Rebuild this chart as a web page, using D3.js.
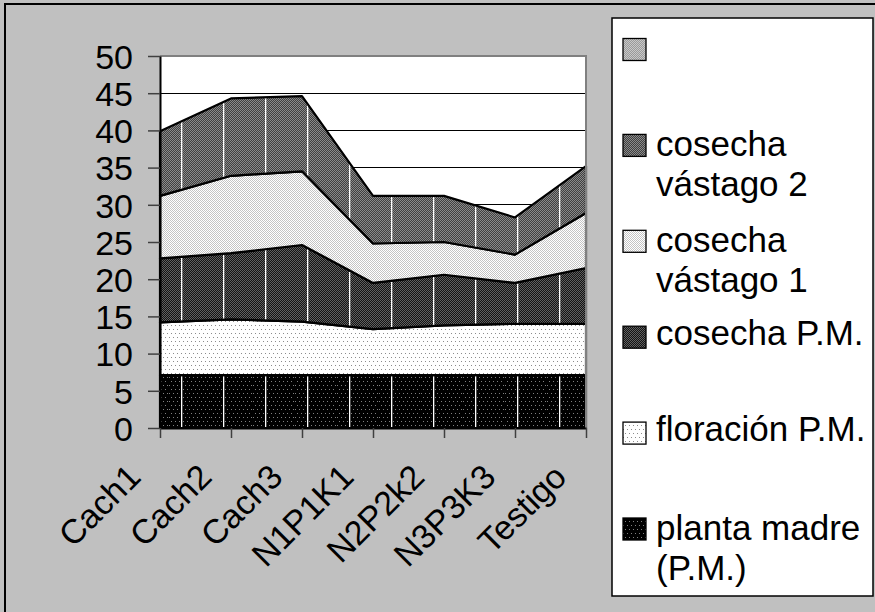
<!DOCTYPE html>
<html>
<head>
<meta charset="utf-8">
<script src="https://cdn.jsdelivr.net/npm/d3@7"></script>
<style>
  html, body { margin: 0; padding: 0; background: #c0c0c0; }
  svg { display: block; font-family: "Liberation Sans", Arial, sans-serif; }
</style>
</head>
<body>
<svg id="chart" width="875" height="612"></svg>
<script>
// ---- data ----
const categories = ["Cach1", "Cach2", "Cach3", "N1P1K1", "N2P2k2", "N3P3K3", "Testigo"];
const plantaMadre = [7.1, 7.1, 7.1, 7.1, 7.1, 7.1, 7.1];
const floracionPM = [7.1, 7.5, 7.2, 6.2, 6.7, 6.9, 6.9];
const cosechaPM   = [8.6, 8.9, 10.3, 6.2, 6.8, 5.5, 7.5];
const cosechaV1   = [8.4, 10.4, 9.9, 5.3, 4.4, 3.8, 7.4];
const cosechaV2   = [8.7, 10.4, 10.1, 6.4, 6.2, 5.0, 6.3];
const blankSeries = [0, 0, 0, 0, 0, 0, 0];
const seriesNames = ["planta madre (P.M.)", "floración P.M.", "cosecha P.M.", "cosecha vástago 1", "cosecha vástago 2", ""];
const yTickLabels = [0, 5, 10, 15, 20, 25, 30, 35, 40, 45, 50];

const seriesValues = [plantaMadre, floracionPM, cosechaPM, cosechaV1, cosechaV2, blankSeries];
const keys = seriesNames.map((n, i) => "s" + i);
const table = categories.map((c, j) => {
  const row = { cat: c };
  keys.forEach((k, i) => row[k] = seriesValues[i][j]);
  return row;
});

// ---- layout ----
const svg = d3.select("#chart");
const W = 875, H = 612;
const plot = { left: 160, right: 586, top: 56, bottom: 428 };

svg.append("rect").attr("width", W).attr("height", H).attr("fill", "#c0c0c0");
// outer border (left / top visible)
svg.append("path").attr("d", `M5,${H} V4 H${W}`).attr("fill", "none").attr("stroke", "#000").attr("stroke-width", 2);

// ---- patterns ----
const defs = svg.append("defs");
function checker(id, a, b, lines) {
  const p = defs.append("pattern").attr("id", id).attr("patternUnits", "userSpaceOnUse")
    .attr("width", lines ? 42 : 2).attr("height", 2);
  p.append("rect").attr("width", lines ? 42 : 2).attr("height", 2).attr("fill", a);
  const n = lines ? 21 : 1;
  for (let i = 0; i < n; i++) {
    p.append("rect").attr("x", i * 2).attr("y", 0).attr("width", 1).attr("height", 1).attr("fill", b);
    p.append("rect").attr("x", i * 2 + 1).attr("y", 1).attr("width", 1).attr("height", 1).attr("fill", b);
  }
  if (lines) p.append("rect").attr("x", 13).attr("y", 0).attr("width", 1.3).attr("height", 2).attr("fill", "#fff");
  return "url(#" + id + ")";
}
function dots(id, bg, dot, lines) {
  const w = lines ? 42 : 4;
  const p = defs.append("pattern").attr("id", id).attr("patternUnits", "userSpaceOnUse")
    .attr("width", w).attr("height", 8);
  p.append("rect").attr("width", w).attr("height", 8).attr("fill", bg);
  for (let x = 0; x < w; x += 4) {
    p.append("rect").attr("x", x + 1).attr("y", 1).attr("width", 1).attr("height", 1).attr("fill", dot);
    p.append("rect").attr("x", x + 3).attr("y", 5).attr("width", 1).attr("height", 1).attr("fill", dot);
  }
  if (lines) p.append("rect").attr("x", 13).attr("y", 0).attr("width", 1.3).attr("height", 8).attr("fill", "#fff");
  return "url(#" + id + ")";
}
const fills = [
  dots("pPM", "#000", "#808080", true),
  dots("pFl", "#fff", "#8c8c8c", false),
  checker("pCPM", "#141414", "#606060", true),
  checker("pV1", "#ffffff", "#c4c4c4", false),
  checker("pV2", "#404040", "#8a8a8a", true),
  checker("pBl", "#9a9a9a", "#c8c8c8", false)
];
const swatchFills = [
  dots("sPM", "#000", "#808080", false),
  fills[1],
  checker("sCPM", "#141414", "#606060", false),
  fills[3],
  checker("sV2", "#404040", "#8a8a8a", false),
  fills[5]
];

// ---- scales ----
const x = d3.scalePoint().domain(categories).range([plot.left, plot.right]);
const y = d3.scaleLinear().domain([0, 50]).range([plot.bottom, plot.top]);

// plot background
svg.append("rect").attr("x", plot.left).attr("y", plot.top)
  .attr("width", plot.right - plot.left).attr("height", plot.bottom - plot.top).attr("fill", "#fff");

// gridlines
svg.append("g").selectAll("line").data(yTickLabels.filter(v => v > 0 && v < 50)).join("line")
  .attr("x1", plot.left).attr("x2", plot.right)
  .attr("y1", d => y(d)).attr("y2", d => y(d))
  .attr("stroke", "#000").attr("stroke-width", 1).attr("shape-rendering", "crispEdges");

// areas
const stacked = d3.stack().keys(keys)(table);
const area = d3.area()
  .x(d => x(d.data.cat))
  .y0(d => y(d[0]))
  .y1(d => y(d[1]));
svg.append("g").selectAll("path").data(stacked).join("path")
  .attr("d", area)
  .attr("fill", (d, i) => fills[i])
  .attr("stroke", (d, i) => i === 5 ? "none" : "#000")
  .attr("stroke-width", 2.2)
  .attr("stroke-linejoin", "round");

// plot frame top/right (gray)
svg.append("path").attr("d", `M${plot.left},${plot.top} H${plot.right} V${plot.bottom}`)
  .attr("fill", "none").attr("stroke", "#808080").attr("stroke-width", 2);

// y axis
const yAxis = svg.append("g").attr("transform", `translate(${plot.left},0)`)
  .call(d3.axisLeft(y).tickValues(yTickLabels).tickSize(12).tickPadding(15).tickSizeOuter(0));
yAxis.select(".domain").attr("stroke", "#000").attr("stroke-width", 2);
yAxis.selectAll(".tick line").attr("stroke", "#404040").attr("stroke-width", 1.5);
yAxis.selectAll(".tick text").attr("font-size", 34).attr("fill", "#000")
  .attr("font-family", "Liberation Sans, Arial, sans-serif").attr("dy", "0.36em");

// x axis
const xAxis = svg.append("g").attr("transform", `translate(0,${plot.bottom})`)
  .call(d3.axisBottom(x).tickSize(10).tickSizeOuter(0));
xAxis.select(".domain").attr("stroke", "#000").attr("stroke-width", 2);
xAxis.selectAll(".tick line").attr("stroke", "#404040").attr("stroke-width", 1.5);
xAxis.selectAll(".tick text")
  .attr("font-size", 34).attr("fill", "#000")
  .attr("font-family", "Liberation Sans, Arial, sans-serif")
  .attr("y", 0).attr("dy", 0)
  .attr("text-anchor", "end")
  .attr("transform", "translate(-18,51) rotate(-45)");

// ---- legend ----
const lg = { left: 612, top: 18, right: 873, bottom: 596 };
svg.append("rect").attr("x", lg.left).attr("y", lg.top)
  .attr("width", lg.right - lg.left).attr("height", lg.bottom - lg.top)
  .attr("fill", "#fff").attr("stroke", "#000").attr("stroke-width", 1.5);

const legendOrder = [5, 4, 3, 2, 1, 0];
const entryGap = 95.9, firstCenter = 49.5;
const textX = 656, maxW = 222, lineH = 40, fs = 35;
const measurer = svg.append("text").attr("font-size", fs).attr("visibility", "hidden");
function wrap(str) {
  const words = str.split(" ").filter(w => w.length);
  const lines = []; let cur = "";
  words.forEach(w => {
    const t = cur ? cur + " " + w : w;
    measurer.text(t);
    if (measurer.node().getComputedTextLength() > maxW && cur) { lines.push(cur); cur = w; }
    else cur = t;
  });
  if (cur) lines.push(cur);
  return lines;
}
legendOrder.forEach((si, k) => {
  const cy = firstCenter + k * entryGap;
  svg.append("rect").attr("x", 623).attr("y", cy - 11).attr("width", 23).attr("height", 22)
    .attr("fill", swatchFills[si]).attr("stroke", "#000").attr("stroke-width", 1.3);
  const lines = wrap(seriesNames[si]);
  const baseShift = lines.length > 1 ? 11 : 8;
  const t = svg.append("text").attr("x", textX).attr("y", cy + baseShift)
    .attr("font-size", fs).attr("fill", "#000");
  lines.forEach((l, i) => t.append("tspan").attr("x", textX).attr("dy", i === 0 ? 0 : lineH).text(l));
});
measurer.remove();
</script>
</body>
</html>
